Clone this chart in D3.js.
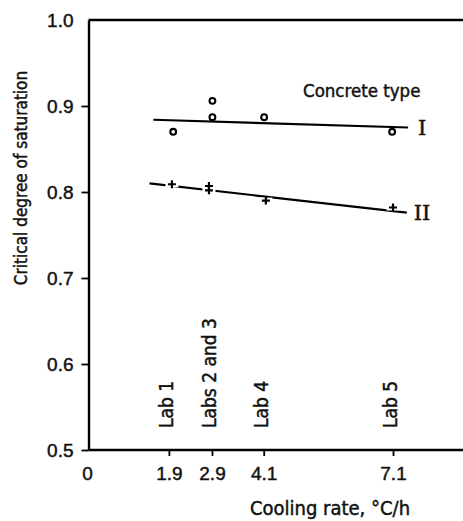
<!DOCTYPE html>
<html>
<head>
<meta charset="utf-8">
<script src="https://cdn.jsdelivr.net/npm/d3@7/dist/d3.min.js"></script>
<style>
  html, body { margin: 0; padding: 0; background: #fff; }
  svg { display: block; }
  text { fill: #111; stroke: #111; stroke-width: 0.45px; }
</style>
</head>
<body>
<svg id="chart" width="463" height="521"></svg>
<script>
// ---- data ----
const xTicks = [0, 1.9, 2.9, 4.1, 7.1];
const yTicks = [0.5, 0.6, 0.7, 0.8, 0.9, 1.0];
const labNames = ["Lab 1", "Labs 2 and 3", "Lab 4", "Lab 5"];
const labRates = [1.9, 2.9, 4.1, 7.1];

// Concrete type I (circles)
const typeIx = [2.0, 2.91, 2.91, 4.11, 7.08];
const typeIy = [0.870, 0.906, 0.887, 0.887, 0.870];
// Concrete type II (crosses)
const typeIIx = [1.97, 2.83, 2.83, 4.15, 7.1];
const typeIIy = [0.809, 0.807, 0.802, 0.790, 0.782];

// fitted lines (end points)
const lineIx = [1.54, 7.45];
const lineIy = [0.884, 0.875];
const lineIIx = [1.45, 7.42];
const lineIIy = [0.810, 0.776];

const seriesLabels = ["I", "II"];
const legendTitle = "Concrete type";
const xTitle = "Cooling rate, \u00B0C/h";
const yTitle = "Critical degree of saturation";

// ---- layout ----
const svg = d3.select("#chart");
const x = d3.scaleLinear().domain([0, 9]).range([87, 87 + 9 * 43.1]);
const y = d3.scaleLinear().domain([0.5, 1.0]).range([450, 20]);
const x0 = 88.5;

const sans = "'DejaVu Sans Condensed', 'DejaVu Sans', sans-serif";
const narrow = "'Liberation Sans Narrow', 'Liberation Sans', sans-serif";

// frame: top border
svg.append("line")
  .attr("x1", x0).attr("x2", 470)
  .attr("y1", y(1.0)).attr("y2", y(1.0))
  .attr("stroke", "#000").attr("stroke-width", 2.4);

// y axis
const yAxis = svg.append("g")
  .attr("transform", `translate(${x0},0)`)
  .call(d3.axisLeft(y).tickValues(yTicks).tickFormat(d3.format(".1f")).tickSize(7).tickPadding(8).tickSizeOuter(0));
yAxis.select(".domain").attr("stroke", "#000").attr("stroke-width", 2.4);
yAxis.selectAll(".tick line").attr("stroke", "#000").attr("stroke-width", 1.8);
yAxis.selectAll(".tick").filter(d => d === 1.0).select("line").remove();
yAxis.selectAll(".tick text")
  .attr("font-family", narrow).attr("font-size", 19).attr("fill", "#111");

// x axis
const xAxis = svg.append("g")
  .attr("transform", `translate(0,${y(0.5)})`)
  .call(d3.axisBottom(x).tickValues(xTicks).tickFormat(d => d === 0 ? "0" : d3.format(".1f")(d)).tickSize(6).tickPadding(11).tickSizeOuter(0));
xAxis.select(".domain").attr("d", `M${x0},0H470`).attr("stroke", "#000").attr("stroke-width", 2.4);
xAxis.selectAll(".tick line").attr("stroke", "#000").attr("stroke-width", 1.8);
xAxis.selectAll(".tick").filter(d => d === 0).select("line").remove();
xAxis.selectAll(".tick text")
  .attr("font-family", narrow).attr("font-size", 19).attr("fill", "#111");

// lab labels (vertical)
svg.append("g").selectAll("text")
  .data(labRates)
  .join("text")
  .attr("transform", d => `translate(${x(d)},428) rotate(-90)`)
  .attr("dy", "0.2em")
  .attr("font-family", sans).attr("font-size", 19)
  .text((d, i) => labNames[i]);

// fitted lines
const line = d3.line().x(d => x(d[0])).y(d => y(d[1]));
svg.append("path")
  .datum(lineIx.map((v, i) => [v, lineIy[i]]))
  .attr("d", line)
  .attr("fill", "none").attr("stroke", "#000").attr("stroke-width", 2.2);
svg.append("path")
  .datum(lineIIx.map((v, i) => [v, lineIIy[i]]))
  .attr("d", line)
  .attr("fill", "none").attr("stroke", "#000").attr("stroke-width", 2.2);

// circles type I
svg.append("g").selectAll("circle")
  .data(typeIx.map((v, i) => [v, typeIy[i]]))
  .join("circle")
  .attr("cx", d => x(d[0])).attr("cy", d => y(d[1]))
  .attr("r", 2.9)
  .attr("fill", "#fff").attr("stroke", "#000").attr("stroke-width", 2.1);

// crosses type II with white halo (breaks the line)
const plus = "M-4,0H4M0,-4V4";
const plusG = svg.append("g");
const ptsII = typeIIx.map((v, i) => [v, typeIIy[i]]);
plusG.selectAll("path.halo")
  .data(ptsII)
  .join("path")
  .attr("class", "halo")
  .attr("transform", d => `translate(${x(d[0])},${y(d[1])})`)
  .attr("d", "M-6.5,0H6.5")
  .attr("stroke", "#fff").attr("stroke-width", 6);
plusG.selectAll("path.mark")
  .data(ptsII)
  .join("path")
  .attr("class", "mark")
  .attr("transform", d => `translate(${x(d[0])},${y(d[1])})`)
  .attr("d", plus)
  .attr("stroke", "#000").attr("stroke-width", 2.2);

// series labels I, II
svg.append("g").selectAll("text")
  .data([lineIy[1], lineIIy[1]])
  .join("text")
  .attr("x", x(lineIx[1]) + 14)
  .attr("y", d => y(d))
  .attr("dy", "0.35em")
  .attr("text-anchor", "middle")
  .attr("font-family", "'DejaVu Serif', 'Liberation Serif', serif")
  .attr("font-size", 21)
  .text((d, i) => seriesLabels[i]);

// legend title
svg.append("text")
  .attr("x", 303).attr("y", 97)
  .attr("font-family", sans).attr("font-size", 18.5)
  .text(legendTitle);

// axis titles
svg.append("text")
  .attr("x", 330).attr("y", 515)
  .attr("text-anchor", "middle")
  .attr("font-family", sans).attr("font-size", 20)
  .text(xTitle);

svg.append("text")
  .attr("transform", "translate(27,178) rotate(-90)")
  .attr("text-anchor", "middle")
  .attr("font-family", sans).attr("font-size", 17)
  .text(yTitle);
</script>
</body>
</html>
